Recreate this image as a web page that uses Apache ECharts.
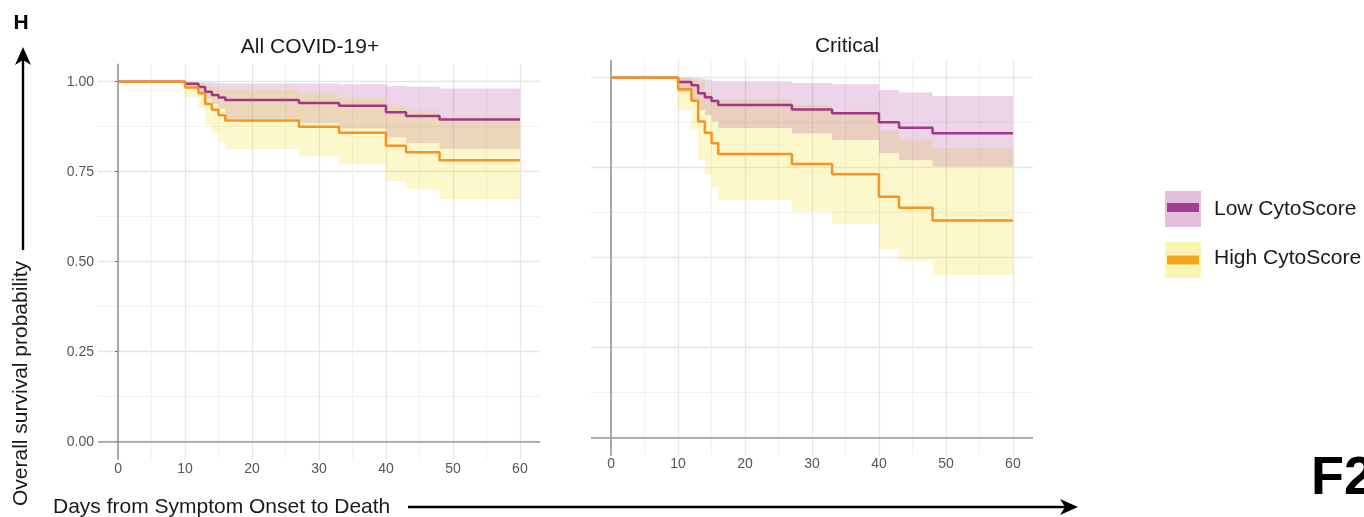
<!DOCTYPE html>
<html>
<head>
<meta charset="utf-8">
<title>Overall survival by CytoScore</title>
<script src="https://cdn.jsdelivr.net/npm/echarts@6/dist/echarts.min.js"></script>
<style>
  html, body { margin: 0; padding: 0; background: #ffffff; }
  #chart { width: 1364px; height: 517px; }
</style>
</head>
<body>
<div id="chart"></div>
<script>
// Kaplan-Meier step times (days from symptom onset)
const days = [0, 10, 12, 13, 14, 15, 16, 27, 33, 40, 43, 48, 60];

const groupNames = ['Low CytoScore', 'High CytoScore'];
const panelTitles = ['All COVID-19+', 'Critical'];

const xTicks = [0, 10, 20, 30, 40, 50, 60];
const xMinorTicks = [5, 15, 25, 35, 45, 55];
const yTicks = [0, 0.25, 0.5, 0.75, 1];
const yMinorTicks = [0.125, 0.375, 0.625, 0.875];

// All COVID-19+ : survival estimate with 95% CI
const allLowSurv  = [1, 0.994, 0.985, 0.972, 0.963, 0.956, 0.949, 0.941, 0.933, 0.915, 0.905, 0.895, 0.895];
const allLowUpper = [1, 0.999, 0.998, 0.998, 0.997, 0.996, 0.995, 0.995, 0.993, 0.989, 0.986, 0.981, 0.981];
const allLowLower = [1, 0.982, 0.970, 0.952, 0.938, 0.925, 0.897, 0.885, 0.870, 0.845, 0.829, 0.813, 0.813];

const allHighSurv  = [1, 0.984, 0.968, 0.938, 0.922, 0.907, 0.892, 0.875, 0.858, 0.822, 0.804, 0.782, 0.782];
const allHighUpper = [1, 0.999, 0.995, 0.990, 0.985, 0.980, 0.977, 0.968, 0.957, 0.932, 0.919, 0.903, 0.903];
const allHighLower = [1, 0.956, 0.928, 0.880, 0.857, 0.833, 0.813, 0.792, 0.770, 0.724, 0.701, 0.674, 0.674];

// Critical : survival estimate with 95% CI
const critLowSurv  = [1, 0.988, 0.979, 0.957, 0.946, 0.935, 0.924, 0.912, 0.901, 0.876, 0.861, 0.846, 0.846];
const critLowUpper = [1, 1.000, 0.999, 0.998, 0.995, 0.991, 0.990, 0.985, 0.982, 0.966, 0.959, 0.949, 0.949];
const critLowLower = [1, 0.961, 0.938, 0.910, 0.896, 0.878, 0.860, 0.845, 0.827, 0.790, 0.771, 0.753, 0.753];

const critHighSurv  = [1, 0.968, 0.936, 0.878, 0.847, 0.818, 0.788, 0.760, 0.732, 0.669, 0.639, 0.603, 0.603];
const critHighUpper = [1, 1.000, 0.995, 0.990, 0.961, 0.943, 0.941, 0.924, 0.906, 0.853, 0.829, 0.804, 0.804];
const critHighLower = [1, 0.910, 0.857, 0.771, 0.732, 0.697, 0.660, 0.628, 0.594, 0.524, 0.492, 0.452, 0.452];

const FONT = '"Liberation Sans", Arial, Helvetica, sans-serif';
const LOW_LINE = '#a0378c';
const HIGH_LINE = '#f7931e';
const LOW_BAND = 'rgba(160, 45, 140, 0.2)';
const HIGH_BAND = 'rgba(240, 220, 0, 0.2)';

const grids = [
  { left: 98, top: 63.7, width: 442, height: 396 },
  { left: 591, top: 59.7, width: 442, height: 396 }
];

function xAxes(g) {
  return [
    {
      gridIndex: g, type: 'value', min: -3, max: 63, position: 'bottom',
      axisLine: { show: false },
      axisTick: { show: false, customValues: xTicks },
      axisLabel: {
        customValues: xTicks, margin: g === 0 ? 2 : 1,
        fontSize: 14, color: '#555555', fontFamily: FONT
      },
      splitLine: { show: true, lineStyle: { color: '#e6e6e6', width: 1.3 } }
    },
    {
      gridIndex: g, type: 'value', min: -3, max: 63, position: 'bottom',
      axisLine: { show: false },
      axisTick: { show: false, customValues: xMinorTicks },
      axisLabel: { show: false },
      splitLine: { show: true, lineStyle: { color: '#f1f1f1', width: 1 } }
    }
  ];
}

function yAxes(g) {
  return [
    {
      gridIndex: g, type: 'value', min: -0.05, max: 1.05, position: 'left',
      axisLine: { show: false },
      axisTick: { show: g === 0, customValues: yTicks, length: 3, lineStyle: { color: '#666666', width: 1 } },
      axisLabel: {
        show: g === 0, customValues: yTicks, margin: 4,
        fontSize: 14, color: '#555555', fontFamily: FONT,
        formatter: v => v.toFixed(2)
      },
      splitLine: { show: true, lineStyle: { color: '#e6e6e6', width: 1.3 } }
    },
    {
      gridIndex: g, type: 'value', min: -0.05, max: 1.05, position: 'left',
      axisLine: { show: false },
      axisTick: { show: false, customValues: yMinorTicks },
      axisLabel: { show: false },
      splitLine: { show: true, lineStyle: { color: '#f1f1f1', width: 1 } }
    }
  ];
}

// Confidence band drawn as one stepped polygon through the axis scales
function bandSeries(g, name, lower, upper, fill) {
  return {
    type: 'custom', name: name, silent: true,
    xAxisIndex: 2 * g, yAxisIndex: 2 * g,
    data: days.map((d, i) => [d, lower[i], upper[i]]),
    encode: { x: 0, y: [1, 2] },
    renderItem: function (params, api) {
      if (params.dataIndex !== 0) return null;
      const top = [], bottom = [];
      for (let i = 0; i < days.length - 1; i++) {
        top.push(api.coord([days[i], upper[i]]), api.coord([days[i + 1], upper[i]]));
        bottom.push(api.coord([days[i], lower[i]]), api.coord([days[i + 1], lower[i]]));
      }
      return {
        type: 'polygon',
        shape: { points: top.concat(bottom.reverse()) },
        style: { fill: fill }
      };
    },
    z: 1
  };
}

function curveSeries(g, name, surv, color, withAxes) {
  const s = {
    type: 'line', name: name, step: 'end',
    xAxisIndex: 2 * g, yAxisIndex: 2 * g,
    data: days.map((d, i) => [d, surv[i]]),
    symbol: 'none', showSymbol: false,
    lineStyle: { color: color, width: 2.5 },
    z: 3
  };
  if (withAxes) {
    // zero lines on both axes, spanning the whole panel
    s.markLine = {
      silent: true, symbol: 'none', animation: false,
      label: { show: false },
      lineStyle: { color: '#999999', width: 1.6, type: 'solid' },
      emphasis: { disabled: true },
      data: [{ xAxis: 0 }, { yAxis: 0 }]
    };
  }
  return s;
}

const series = [
  // All COVID-19+
  bandSeries(0, groupNames[0], allLowLower, allLowUpper, LOW_BAND),
  bandSeries(0, groupNames[1], allHighLower, allHighUpper, HIGH_BAND),
  curveSeries(0, groupNames[0], allLowSurv, LOW_LINE, true),
  curveSeries(0, groupNames[1], allHighSurv, HIGH_LINE, false),
  // Critical
  bandSeries(1, groupNames[1], critHighLower, critHighUpper, HIGH_BAND),
  bandSeries(1, groupNames[0], critLowLower, critLowUpper, LOW_BAND),
  curveSeries(1, groupNames[0], critLowSurv, LOW_LINE, true),
  curveSeries(1, groupNames[1], critHighSurv, HIGH_LINE, false)
];

function label(text, x, y, opts) {
  return {
    type: 'text', x: x, y: y, silent: true,
    rotation: (opts && opts.rotation) || 0,
    style: Object.assign({
      text: text, fill: '#1a1a1a', fontSize: 21, fontFamily: FONT,
      align: 'center', verticalAlign: 'middle'
    }, (opts && opts.style) || {})
  };
}

const graphics = [
  // panel letter and figure tag
  label('H', 21, 23, { style: { fontWeight: 'bold', fill: '#000', align: 'center' } }),
  label('F2', 1311, 479, { style: { fontWeight: 'bold', fill: '#000', fontSize: 54, align: 'left' } }),
  // facet titles
  label(panelTitles[0], 310, 47),
  label(panelTitles[1], 847, 46),
  // axis titles with arrows
  label('Overall survival probability', 21, 383.5, { rotation: Math.PI / 2 }),
  label('Days from Symptom Onset to Death', 53, 507, { style: { align: 'left' } }),
  { type: 'line', silent: true, shape: { x1: 23, y1: 250, x2: 23, y2: 60 }, style: { stroke: '#000', lineWidth: 2.4 } },
  { type: 'polygon', silent: true, shape: { points: [[23, 47], [31, 65], [23, 60], [15, 65]] }, style: { fill: '#000' } },
  { type: 'line', silent: true, shape: { x1: 408, y1: 507, x2: 1066, y2: 507 }, style: { stroke: '#000', lineWidth: 2.4 } },
  { type: 'polygon', silent: true, shape: { points: [[1078, 507], [1060, 499], [1065, 507], [1060, 515]] }, style: { fill: '#000' } },
  // legend keys
  { type: 'rect', silent: true, shape: { x: 1165, y: 191, width: 36, height: 36 }, style: { fill: 'rgba(160, 45, 140, 0.3)' } },
  { type: 'rect', silent: true, shape: { x: 1167, y: 203, width: 32, height: 9 }, style: { fill: '#a0418f' } },
  { type: 'rect', silent: true, shape: { x: 1165, y: 242, width: 36, height: 36 }, style: { fill: 'rgba(240, 220, 0, 0.3)' } },
  { type: 'rect', silent: true, shape: { x: 1167, y: 255.5, width: 32, height: 9 }, style: { fill: '#f2a71c' } },
  label(groupNames[0], 1214, 209.5, { style: { align: 'left' } }),
  label(groupNames[1], 1214, 258.5, { style: { align: 'left' } })
];

const chart = echarts.init(document.getElementById('chart'), null, { renderer: 'canvas' });
chart.setOption({
  animation: false,
  backgroundColor: '#ffffff',
  textStyle: { fontFamily: FONT },
  grid: grids,
  xAxis: xAxes(0).concat(xAxes(1)),
  yAxis: yAxes(0).concat(yAxes(1)),
  series: series,
  graphic: graphics
});
</script>
</body>
</html>
